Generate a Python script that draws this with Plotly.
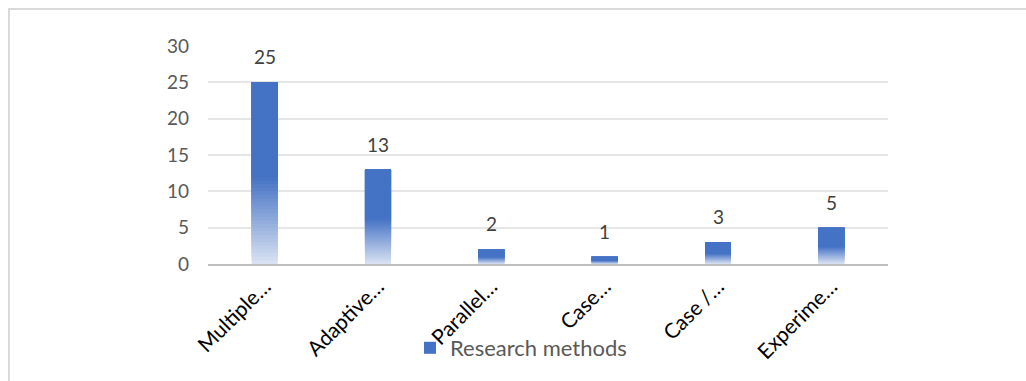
import plotly.graph_objects as go

categories = ["Multiple…", "Adaptive…", "Parallel…", "Case…", "Case /…", "Experime…"]
values = [25, 13, 2, 1, 3, 5]
series_name = "Research methods"
y_ticks = [0, 5, 10, 15, 20, 25, 30]

FONT = "Lato, 'Liberation Sans', sans-serif"
TOP = (68, 114, 196)      # #4472C4
BOTTOM = (218, 227, 243)  # light end of gradient
SOLID_FRAC = 0.48         # gradient occupies bottom 48% of each bar
N_STEPS = 24

def mix(t):
    c = [round(BOTTOM[i] + (TOP[i] - BOTTOM[i]) * t) for i in range(3)]
    return "rgb(%d,%d,%d)" % tuple(c)

fig = go.Figure()
# gradient: each layer spans from its start to the bar top, later layers cover earlier ones
for k in range(N_STEPS):
    f0 = SOLID_FRAC * k / N_STEPS
    fig.add_trace(go.Bar(
        x=categories,
        y=[v * (1 - f0) for v in values],
        base=[v * f0 for v in values],
        marker=dict(color=mix((k + 0.5) / N_STEPS), line=dict(width=0)),
        showlegend=False, hoverinfo="skip",
    ))
# solid top part
fig.add_trace(go.Bar(
    x=categories,
    y=[v * (1 - SOLID_FRAC) for v in values],
    base=[v * SOLID_FRAC for v in values],
    marker=dict(color="#4472C4", line=dict(width=0)),
    name=series_name, showlegend=True,
))

for c, v in zip(categories, values):
    fig.add_annotation(x=c, y=v, text=str(v), showarrow=False,
                       yanchor="bottom", yshift=12,
                       font=dict(family=FONT, size=19, color="#404040"))

L, R, T, B = 208, 1026 - 888, 46, 381 - 264
W, H = 1026 - L - R, 381 - T - B
def px_x(p):
    return (p - L) / W
def px_y(p):
    return (381 - B - p) / H

fig.add_shape(type="rect", xref="paper", yref="paper",
              x0=px_x(9), x1=px_x(1040), y0=px_y(395), y1=px_y(9),
              line=dict(color="#D9D9D9", width=2), fillcolor="rgba(0,0,0,0)",
              layer="below")

fig.update_layout(
    width=1026, height=381,
    margin=dict(l=L, r=R, t=T, b=B),
    barmode="overlay", bargap=0.77,
    plot_bgcolor="white", paper_bgcolor="white",
    font=dict(family=FONT, size=18, color="#595959"),
    showlegend=True,
    legend=dict(orientation="h", x=px_x(521), xanchor="center",
                y=px_y(348), yanchor="middle",
                font=dict(family=FONT, size=22, color="#595959"),
                bgcolor="rgba(0,0,0,0)"),
    xaxis=dict(tickangle=-45, tickfont=dict(family=FONT, size=21, color="#000000"),
               showline=True, linecolor="#BFBFBF", linewidth=2,
               showgrid=False, ticks=""),
    yaxis=dict(range=[0, 30], tickvals=y_ticks, showgrid=True,
               gridcolor="#E6E6E6", gridwidth=2, zeroline=False,
               showline=False, ticks="", ticklabelstandoff=18,
               tickfont=dict(family=FONT, size=19, color="#595959")),
)

fig.write_html("out.html")
